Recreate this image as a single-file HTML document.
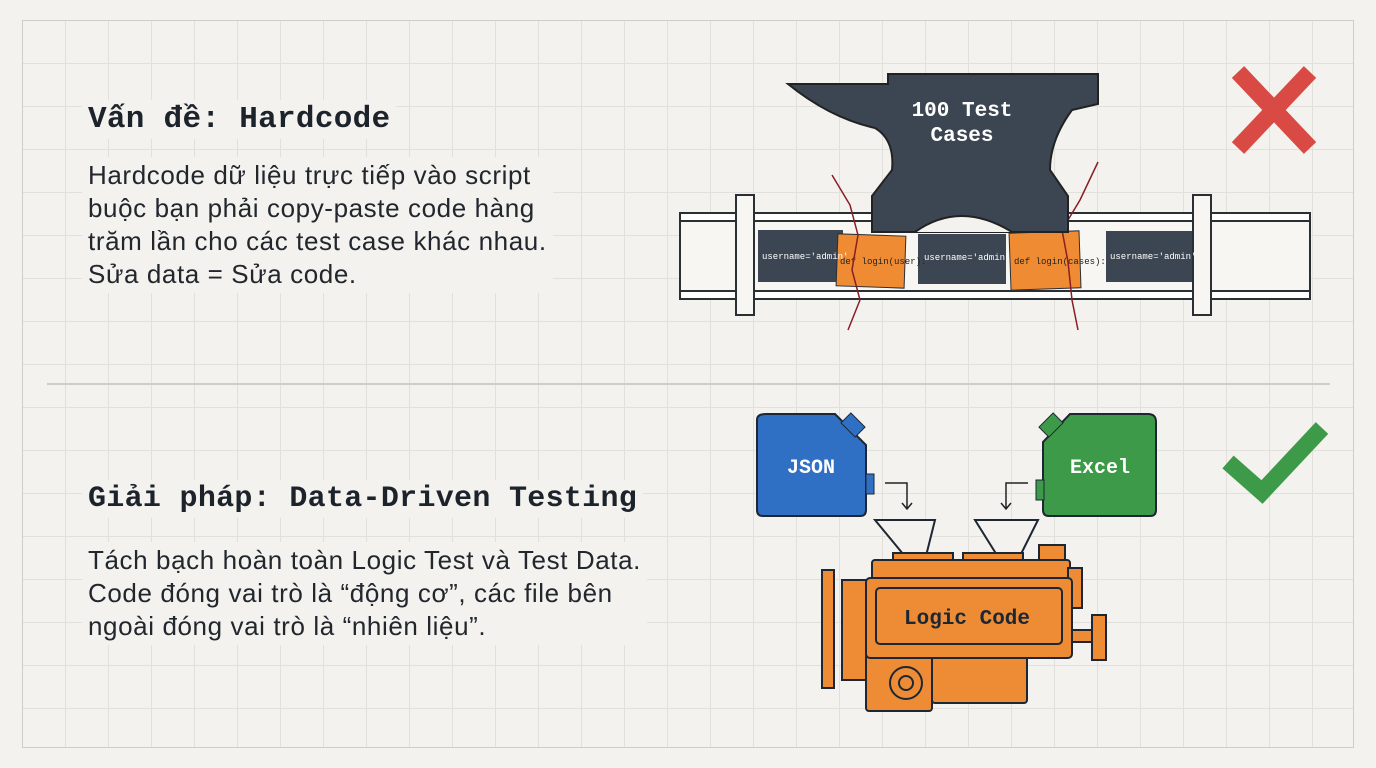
<!DOCTYPE html>
<html><head><meta charset="utf-8"><style>
body{margin:0;width:1376px;height:768px;overflow:hidden;background:#f3f2ee;font-family:"Liberation Sans","DejaVu Sans",sans-serif;}
#f{position:absolute;left:22px;top:20px;width:1330px;height:726px;border:1.5px solid #cfcdc8;
background-image:linear-gradient(#e2e0db 1px,transparent 1px),linear-gradient(90deg,#e2e0db 1px,transparent 1px);background-size:43px 43px;background-position:-1px -1px;}
.t{position:absolute;background:#f3f2ee;color:#1d232b;}
h1{margin:0;font:bold 31px "Liberation Mono","DejaVu Sans Mono",monospace;letter-spacing:0.3px}
p{margin:0;font-size:26px;line-height:33px;color:#22272e;letter-spacing:0.6px}
</style></head><body>
<div id="f"></div>
<div style="position:absolute;left:47px;top:383px;width:1283px;height:1.5px;background:#cfcdc8"></div>
<div class="t" style="left:82px;top:100px;padding:2px 6px"><h1>Vấn đề: Hardcode</h1></div>
<div class="t" style="left:82px;top:157px;padding:2px 6px"><p>Hardcode dữ liệu trực tiếp vào script<br>buộc bạn phải copy-paste code hàng<br>trăm lần cho các test case khác nhau.<br>Sửa data = Sửa code.</p></div>
<div class="t" style="left:82px;top:480px;padding:2px 6px"><h1 style="font-size:30px">Giải pháp: Data-Driven Testing</h1></div>
<div class="t" style="left:82px;top:542px;padding:2px 6px"><p>Tách bạch hoàn toàn Logic Test và Test Data.<br>Code đóng vai trò là “động cơ”, các file bên<br>ngoài đóng vai trò là “nhiên liệu”.</p></div>
<svg width="1376" height="768" style="position:absolute;left:0;top:0" font-family="Liberation Mono,DejaVu Sans Mono,monospace">
<g stroke="#d94a44" stroke-width="17"><line x1="1238" y1="72" x2="1310" y2="148"/><line x1="1310" y1="72" x2="1238" y2="148"/></g>
<polyline points="1228,462 1262,492 1322,428" fill="none" stroke="#3d9a48" stroke-width="17"/>
<g stroke="#2a2f36" stroke-width="2" fill="#f7f6f2">
<rect x="680" y="213" width="630" height="86" fill="#f7f6f2"/>
<rect x="680" y="213" width="630" height="8" fill="#fff"/>
<rect x="680" y="291" width="630" height="8" fill="#fff"/>
<rect x="736" y="195" width="18" height="120"/><rect x="1193" y="195" width="18" height="120"/>
</g>
<g fill="#3c4652">
<rect x="758" y="230" width="85" height="52"/><rect x="918" y="234" width="88" height="50"/><rect x="1106" y="231" width="86" height="51"/>
</g>
<rect x="837" y="235" width="68" height="52" fill="#ef8c33" stroke="#2a2f36" transform="rotate(2 871 261)"/>
<rect x="1010" y="232" width="70" height="57" fill="#ef8c33" stroke="#2a2f36" transform="rotate(-2 1045 260)"/>
<g font-size="9" fill="#fff"><text x="762" y="259">username='admin'</text><text x="924" y="260">username='admin'</text><text x="1110" y="259">username='admin'</text></g>
<g font-size="9" fill="#222"><text x="840" y="264">def login(user):</text><text x="1014" y="264">def login(cases):</text></g>
<g stroke="#8a1d25" stroke-width="1.5" fill="none"><path d="M832 175 L850 205 L858 235 L852 270 L860 300 L848 330"/><path d="M1098 162 L1080 200 L1062 230 L1068 262 L1072 300 L1078 330"/></g>
<path d="M888 74 H1098 V104 L1072 110 Q1050 140 1050 170 L1068 196 V232 H872 V196 L892 170 Q895 140 875 128 Q830 118 788 84 H888 Z" fill="#3c4652" stroke="#222" stroke-width="2"/>
<path d="M915 232 Q960 200 1012 232" fill="#f3f2ee" stroke="#222" stroke-width="2"/>
<text x="962" y="116" font-size="21" font-weight="bold" fill="#fff" text-anchor="middle">100 Test</text>
<text x="962" y="141" font-size="21" font-weight="bold" fill="#fff" text-anchor="middle">Cases</text>
<path d="M766 414 H835 L866 445 V510 Q866 516 860 516 H763 Q757 516 757 510 V420 Q757 414 766 414Z" fill="#2f6fc4" stroke="#1d2733" stroke-width="2"/>
<rect x="846" y="415" width="14" height="20" fill="#2f6fc4" stroke="#1d2733" transform="rotate(-45 853 425)"/>
<rect x="866" y="474" width="8" height="20" fill="#2f6fc4" stroke="#1d2733"/>
<text x="811" y="473" font-size="20" font-weight="bold" fill="#fff" text-anchor="middle">JSON</text>
<path d="M1070 414 H1148 Q1156 414 1156 422 V510 Q1156 516 1150 516 H1049 Q1043 516 1043 510 V442 Z" fill="#3d9a48" stroke="#1d2733" stroke-width="2"/>
<rect x="1044" y="415" width="14" height="20" fill="#3d9a48" stroke="#1d2733" transform="rotate(45 1051 425)"/>
<rect x="1036" y="480" width="8" height="20" fill="#3d9a48" stroke="#1d2733"/>
<text x="1100" y="473" font-size="20" font-weight="bold" fill="#fff" text-anchor="middle">Excel</text>
<g stroke="#222" stroke-width="1.5" fill="none"><path d="M885 483 H907 V508 M902 503 L907 509 L912 503"/><path d="M1028 483 H1006 V508 M1001 503 L1006 509 L1011 503"/></g>
<g stroke="#1d2733" stroke-width="2" fill="#ee8c35">
<path d="M875 520 H935 L925 560 H908 Z" fill="#f3f2ee"/><path d="M975 520 H1038 L1018 560 H1000 Z" fill="#f3f2ee"/>
<rect x="893" y="553" width="60" height="8"/><rect x="963" y="553" width="60" height="8"/>
<rect x="1039" y="545" width="26" height="16"/>
<rect x="872" y="560" width="198" height="25" rx="3"/>
<rect x="842" y="580" width="30" height="100"/>
<rect x="822" y="570" width="12" height="118"/>
<rect x="1068" y="568" width="14" height="40"/><rect x="1070" y="630" width="30" height="12"/><rect x="1092" y="615" width="14" height="45"/>
<rect x="866" y="653" width="66" height="58" rx="3"/><rect x="932" y="653" width="95" height="50" rx="3"/>
<rect x="866" y="578" width="206" height="80" rx="4"/>
<rect x="876" y="588" width="186" height="56" rx="4"/>
<circle cx="906" cy="683" r="16"/><circle cx="906" cy="683" r="7"/>
</g>
<text x="967" y="624" font-size="21" font-weight="bold" fill="#1d2733" text-anchor="middle">Logic Code</text>
</svg>
</body></html>
